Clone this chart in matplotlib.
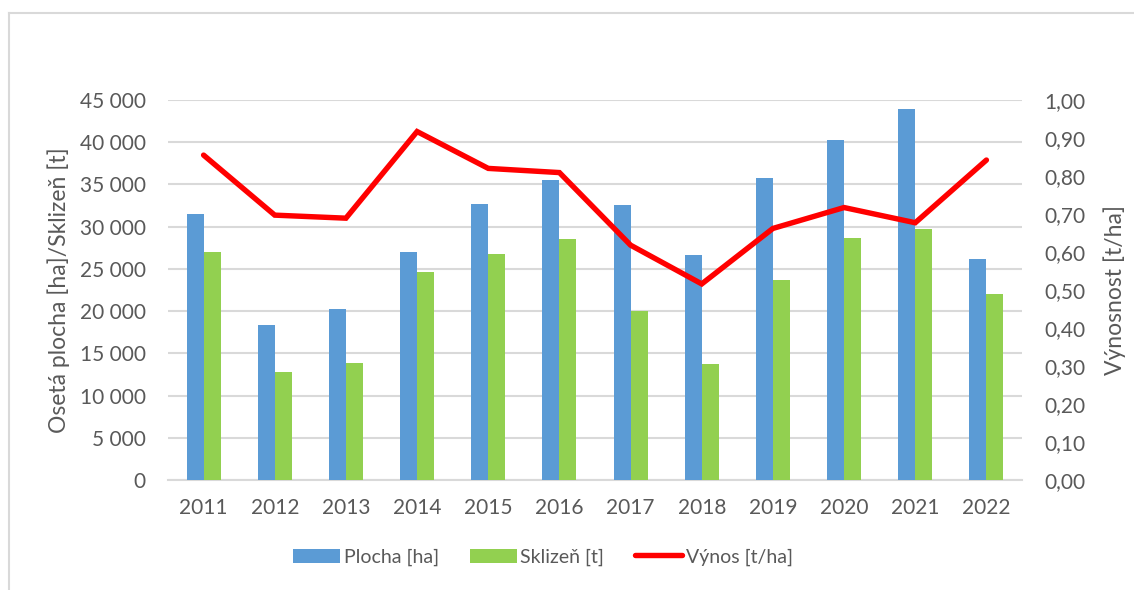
import numpy as np
import matplotlib.pyplot as plt
from matplotlib.lines import Line2D
from matplotlib.ticker import FuncFormatter

plt.rcParams['font.family'] = ['Lato', 'DejaVu Sans']

years = ['2011', '2012', '2013', '2014', '2015', '2016',
         '2017', '2018', '2019', '2020', '2021', '2022']
plocha = [31500, 18360, 20250, 27000, 32650, 35570,
          32600, 26600, 35800, 40260, 43900, 26140]
sklizen = [26960, 12790, 13900, 24670, 26760, 28540,
           20050, 13700, 23650, 28700, 29700, 21990]
vynos = [0.855, 0.697, 0.689, 0.917, 0.820, 0.809,
         0.618, 0.516, 0.662, 0.717, 0.677, 0.842]

text_col = '#595959'
grid_col = '#D9D9D9'

fig = plt.figure(figsize=(11.34, 5.9), dpi=100)
ax = fig.add_axes([168/1134, 1-480/590, (1022-168)/1134, 380/590])
ax2 = ax.twinx()

x = np.arange(len(years))
w = 0.24
ax.bar(x - w/2, plocha, w, color='#5B9BD5', label='Plocha [ha]', zorder=3)
ax.bar(x + w/2, sklizen, w, color='#92D050', label='Sklizeň [t]', zorder=3)
ax2.plot(x, vynos, color='#FF0000', lw=3.9, solid_joinstyle='miter',
         solid_capstyle='round', label='Výnos [t/ha]', zorder=4)

ax.set_xlim(-0.5, len(years) - 0.5)
ax.set_ylim(0, 45000)
ax.set_yticks(np.arange(0, 45001, 5000))
ax.yaxis.set_major_formatter(FuncFormatter(lambda v, p: f'{int(v):,}'.replace(',', ' ')))
ax2.set_ylim(0, 1)
ax2.set_yticks(np.arange(0, 1.001, 0.1))
ax2.yaxis.set_major_formatter(FuncFormatter(lambda v, p: f'{v:.2f}'.replace('.', ',')))

ax.set_xticks(x)
ax.set_xticklabels(years)
ax.grid(axis='y', color=grid_col, lw=1.5, zorder=0)
ax.set_axisbelow(True)

for a in (ax, ax2):
    for s in a.spines.values():
        s.set_visible(False)
    a.tick_params(length=0, colors=text_col, labelsize=15)
ax.spines['bottom'].set_visible(True)
ax.spines['bottom'].set_color(grid_col)
ax.spines['bottom'].set_linewidth(1.5)
ax.tick_params(axis='y', pad=16)
ax.tick_params(axis='x', pad=13)
ax2.tick_params(axis='y', pad=16)

ax.set_ylabel('Osetá plocha [ha]/Sklizeň [t]', color=text_col, fontsize=16.5, labelpad=7)
ax2.set_ylabel('Výnosnost [t/ha]', color=text_col, fontsize=16.5, labelpad=13)

h1, l1 = ax.get_legend_handles_labels()
h2, l2 = ax2.get_legend_handles_labels()
fig.legend(h1 + h2, l1 + l2, loc='center', bbox_to_anchor=(543/1134, 1-557/590),
           ncol=3, frameon=False, fontsize=14, labelcolor=text_col,
           handlelength=2.4, handleheight=0.75, handletextpad=0.2, columnspacing=1.6)

# chart border (cropped on right and bottom)
fig.add_artist(Line2D([9/1134, 9/1134], [0, 1-13/590], color='#D9D9D9', lw=1.5))
fig.add_artist(Line2D([9/1134, 1], [1-13/590, 1-13/590], color='#D9D9D9', lw=1.5))

fig.savefig('out.png', dpi=100)
